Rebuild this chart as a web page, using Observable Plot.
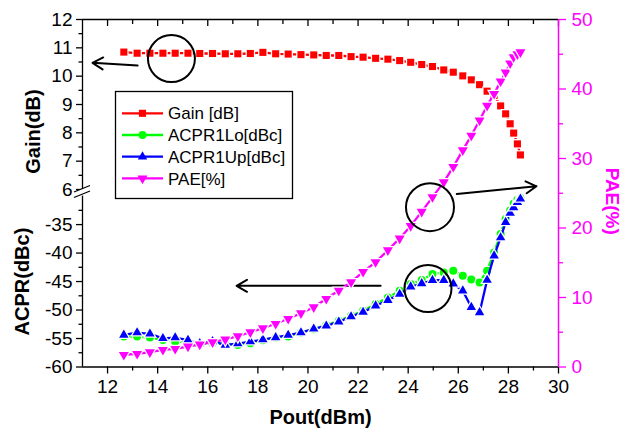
<!DOCTYPE html>
<html><head><meta charset="utf-8">
<script src="https://cdn.jsdelivr.net/npm/d3@7"></script>
<script src="https://cdn.jsdelivr.net/npm/@observablehq/plot@0.6"></script>
<style>
body{margin:0;background:#fff;}
#chart{position:relative;width:624px;height:437px;font-family:"Liberation Sans",Arial,sans-serif;}
#chart svg{position:absolute;left:0;top:0;}
</style></head><body><div id="chart"></div>
<script>
// ---------- data ----------
const pout = [12.65,13.18,13.69,14.21,14.70,15.21,15.68,16.19,16.70,17.20,17.70,18.20,18.71,19.21,19.72,20.23,20.73,21.23,21.72,22.20,22.70,23.19,23.66,24.10,24.54,24.97,25.42,25.80,26.18,26.52,26.85,27.15,27.43,27.69,27.89,28.07,28.21,28.36,28.48];
const gain = [10.85,10.81,10.81,10.81,10.81,10.81,10.80,10.80,10.79,10.79,10.80,10.84,10.79,10.78,10.76,10.75,10.73,10.73,10.69,10.67,10.63,10.60,10.55,10.49,10.41,10.34,10.22,10.14,10.01,9.87,9.70,9.47,9.32,8.95,8.67,8.32,7.99,7.61,7.22];
const acprLo = [-54.63,-54.66,-54.84,-55.25,-55.55,-55.72,-56.0,-55.83,-56.0,-56.13,-55.83,-55.30,-54.84,-54.66,-53.96,-53.36,-52.66,-51.90,-51.02,-50.14,-48.96,-47.80,-46.62,-45.44,-44.74,-43.68,-43.40,-43.10,-43.98,-44.63,-45.16,-43.10,-39.88,-36.64,-34.0,-32.54,-31.36,-30.65,-30.33];
const acprUp = [-54.37,-53.96,-54.19,-54.98,-54.84,-55.28,-55.86,-55.51,-56.13,-55.90,-55.55,-55.19,-54.81,-54.40,-53.96,-53.31,-52.78,-52.08,-51.16,-50.37,-49.26,-48.29,-47.20,-45.92,-45.35,-44.77,-44.77,-45.39,-46.62,-49.52,-50.44,-44.74,-40.46,-37.29,-34.60,-32.98,-32.0,-31.07,-30.48];
const pae = [1.76,1.90,2.13,2.47,2.62,2.95,3.24,3.57,3.96,4.43,5.0,5.58,6.22,6.94,7.74,8.6,9.81,11.0,12.2,13.7,15.1,16.8,18.5,20.3,22.35,24.45,26.6,28.8,31.2,33.3,35.5,37.6,39.3,41.1,42.4,43.7,44.6,45.0,45.3];

const seriesNames = ["Gain [dB]","ACPR1Lo[dBc]","ACPR1Up[dBc]","PAE[%]"];
const seriesColors = ["#ff0000","#00ff00","#0000ff","#ff00ff"];

const xMajorTicks = [12,14,16,18,20,22,24,26,28,30];
const xMinorTicks = [13,15,17,19,21,23,25,27,29];
const gainTicks = [6,7,8,9,10,11,12];
const gainMinorTicks = [6.5,7.5,8.5,9.5,10.5,11.5];
const acprTicks = [-60,-55,-50,-45,-40,-35];
const acprMinorTicks = [-57.5,-52.5,-47.5,-42.5,-37.5,-32.5];
const paeTicks = [0,10,20,30,40,50];
const paeMinorTicks = [5,15,25,35,45];

// annotations (data coordinates)
const gainArrow = [{x1:13.2, y1:10.38, x2:11.4, y2:10.47}];
const gainCircle = [{x:14.55, y:10.62}];
const paeArrow = [{x1:25.94, y1:24.9, x2:29.12, y2:26.0}];
const paeCircle = [{x:24.87, y:23.0}];
const acprArrow = [{x1:22.9, y1:-45.74, x2:17.15, y2:-45.74}];
const acprCircle = [{x:24.79, y:-46.23}];

// ---------- tables ----------
const gainData = pout.map((x,i)=>({x, y:gain[i]}));
const loData = pout.map((x,i)=>({x, y:acprLo[i]}));
const upData = pout.map((x,i)=>({x, y:acprUp[i]}));
const paeData = pout.map((x,i)=>({x, y:pae[i]}));

// ---------- layout ----------
const W = 624, H = 437, mL = 82, mR = 66;
const FONT = "Liberation Sans, Arial, Helvetica, sans-serif";
const style = {fontFamily: FONT, fontSize: "19px", background: "transparent", overflow: "visible", color: "black"};
const base = {width: W, height: H, marginLeft: mL, marginRight: mR, style};
const noLbl = () => "";
const plain = d => String(d);
const halo = {stroke: "white", strokeWidth: 2.5, paintOrder: "stroke"};
const LW = 2.3;

const gainPlot = Plot.plot({
  ...base, marginTop: 19, marginBottom: H - 189,
  x: {domain: [11, 30], axis: null},
  y: {domain: [6, 12]},
  marks: [
    Plot.ruleX([11], {strokeWidth: 1.3}),
    Plot.axisY(gainTicks, {anchor: "left", tickSize: 6, tickPadding: 4, fontSize: 19, label: null, tickFormat: plain, strokeWidth: 1.3}),
    Plot.axisY(gainMinorTicks, {anchor: "left", tickSize: 3.5, tickFormat: noLbl, label: null, strokeWidth: 1.3}),
    Plot.text(["Gain(dB)"], {frameAnchor: "left", textAnchor: "middle", dx: -49, dy: 27, rotate: -90, fontSize: 20, fontWeight: "bold"}),
    Plot.line(gainData, {x: "x", y: "y", stroke: seriesColors[0], strokeWidth: LW}),
    Plot.dot(gainData, {x: "x", y: "y", symbol: "square", r: 4, fill: seriesColors[0], ...halo}),
    Plot.dot(gainCircle, {x: "x", y: "y", r: 23.5, stroke: "black", strokeWidth: 2, fill: "none"}),
    Plot.arrow(gainArrow, {x1: "x1", y1: "y1", x2: "x2", y2: "y2", stroke: "black", strokeWidth: 2, headLength: 9})
  ]
});

const acprPlot = Plot.plot({
  ...base, marginTop: 195.6, marginBottom: 70.5,
  x: {domain: [11, 30], axis: null},
  y: {domain: [-60, -30]},
  marks: [
    Plot.ruleX([11], {strokeWidth: 1.3}),
    Plot.axisY(acprTicks, {anchor: "left", tickSize: 6, tickPadding: 4, fontSize: 19, label: null, tickFormat: plain, strokeWidth: 1.3}),
    Plot.axisY(acprMinorTicks, {anchor: "left", tickSize: 3.5, tickFormat: noLbl, label: null, strokeWidth: 1.3}),
    Plot.text(["ACPR(dBc)"], {frameAnchor: "left", textAnchor: "middle", dx: -60, dy: 0, rotate: -90, fontSize: 20, fontWeight: "bold"}),
    Plot.line(loData, {x: "x", y: "y", stroke: seriesColors[1], strokeWidth: LW}),
    Plot.dot(loData, {x: "x", y: "y", symbol: "circle", r: 4, fill: seriesColors[1], ...halo}),
    Plot.line(upData, {x: "x", y: "y", stroke: seriesColors[2], strokeWidth: LW}),
    Plot.dot(upData, {x: "x", y: "y", symbol: "triangle", r: 3.5, fill: seriesColors[2], ...halo}),
    Plot.dot(acprCircle, {x: "x", y: "y", r: 23.5, stroke: "black", strokeWidth: 2, fill: "none"}),
    Plot.arrow(acprArrow, {x1: "x1", y1: "y1", x2: "x2", y2: "y2", stroke: "black", strokeWidth: 2, headLength: 9})
  ]
});

const paePlot = Plot.plot({
  ...base, marginTop: 19, marginBottom: 70.5,
  x: {domain: [11, 30]},
  y: {domain: [0, 50]},
  marks: [
    Plot.ruleY([50], {strokeWidth: 1.3}),
    Plot.ruleY([0], {strokeWidth: 1.3}),
    Plot.axisX(xMajorTicks, {anchor: "bottom", tickSize: 7, tickPadding: 5, fontSize: 19, label: null, tickFormat: plain, strokeWidth: 1.3}),
    Plot.axisX(xMinorTicks, {anchor: "bottom", tickSize: 4, tickFormat: noLbl, label: null, strokeWidth: 1.3}),
    Plot.axisX(xMajorTicks, {anchor: "top", tickSize: -6, tickFormat: noLbl, label: null, strokeWidth: 1.3}),
    Plot.axisX(xMinorTicks, {anchor: "top", tickSize: -4, tickFormat: noLbl, label: null, strokeWidth: 1.3}),
    Plot.axisY(paeTicks, {anchor: "right", tickSize: 7, tickPadding: 6, fontSize: 19, label: null, tickFormat: plain, color: seriesColors[3], strokeWidth: 1.3}),
    Plot.axisY(paeMinorTicks, {anchor: "right", tickSize: 4, tickFormat: noLbl, label: null, color: seriesColors[3], strokeWidth: 1.3}),
    Plot.ruleX([30], {stroke: seriesColors[3], strokeWidth: 1.5}),
    Plot.text(["Pout(dBm)"], {frameAnchor: "bottom", dy: 57, fontSize: 20, fontWeight: "bold"}),
    Plot.text(["PAE(%)"], {frameAnchor: "right", textAnchor: "middle", dx: 54, dy: 8, rotate: 90, fontSize: 19, fontWeight: "bold", fill: seriesColors[3]}),
    Plot.line(paeData, {x: "x", y: "y", stroke: seriesColors[3], strokeWidth: LW}),
    Plot.dot(paeData, {x: "x", y: "y", symbol: "triangle", rotate: 180, r: 3.7, fill: seriesColors[3], ...halo}),
    Plot.dot(paeCircle, {x: "x", y: "y", r: 24, stroke: "black", strokeWidth: 2, fill: "none"}),
    Plot.arrow(paeArrow, {x1: "x1", y1: "y1", x2: "x2", y2: "y2", stroke: "black", strokeWidth: 2, headLength: 9})
  ]
});

// ---------- overlay: legend + axis break ----------
const ov = d3.create("svg").attr("width", W).attr("height", H).style("overflow", "visible");
const lg = ov.append("g");
lg.append("rect").attr("x", 115.5).attr("y", 91.5).attr("width", 177).attr("height", 107)
  .attr("fill", "white").attr("stroke", "black").attr("stroke-width", 1.3);
const legSymbols = [
  {type: d3.symbolSquare, size: Math.PI * 16, rot: 0},
  {type: d3.symbolCircle, size: Math.PI * 16, rot: 0},
  {type: d3.symbolTriangle, size: Math.PI * 12.25, rot: 0},
  {type: d3.symbolTriangle, size: Math.PI * 13.7, rot: 180}
];
seriesNames.forEach((name, i) => {
  const y = 113.3 + i * 21.7;
  const g = lg.append("g");
  g.append("line").attr("x1", 122).attr("x2", 163).attr("y1", y).attr("y2", y)
    .attr("stroke", seriesColors[i]).attr("stroke-width", LW);
  g.append("path").attr("d", d3.symbol(legSymbols[i].type, legSymbols[i].size)())
    .attr("transform", `translate(142.5,${y}) rotate(${legSymbols[i].rot})`)
    .attr("fill", seriesColors[i]);
  g.append("text").attr("x", 168).attr("y", y).attr("dy", "0.36em")
    .attr("font-family", FONT).attr("font-size", 17).text(name);
});
// axis break mark
const br = ov.append("g");
br.append("polygon").attr("points", "74,192 90,185.5 90,191 74,197.5").attr("fill", "white");
br.append("line").attr("x1", 74).attr("y1", 192).attr("x2", 90).attr("y2", 185.5).attr("stroke", "black").attr("stroke-width", 1.3);
br.append("line").attr("x1", 74).attr("y1", 197.5).attr("x2", 90).attr("y2", 191).attr("stroke", "black").attr("stroke-width", 1.3);

const chart = document.getElementById("chart");
chart.append(gainPlot, acprPlot, paePlot, ov.node());
</script></body></html>
